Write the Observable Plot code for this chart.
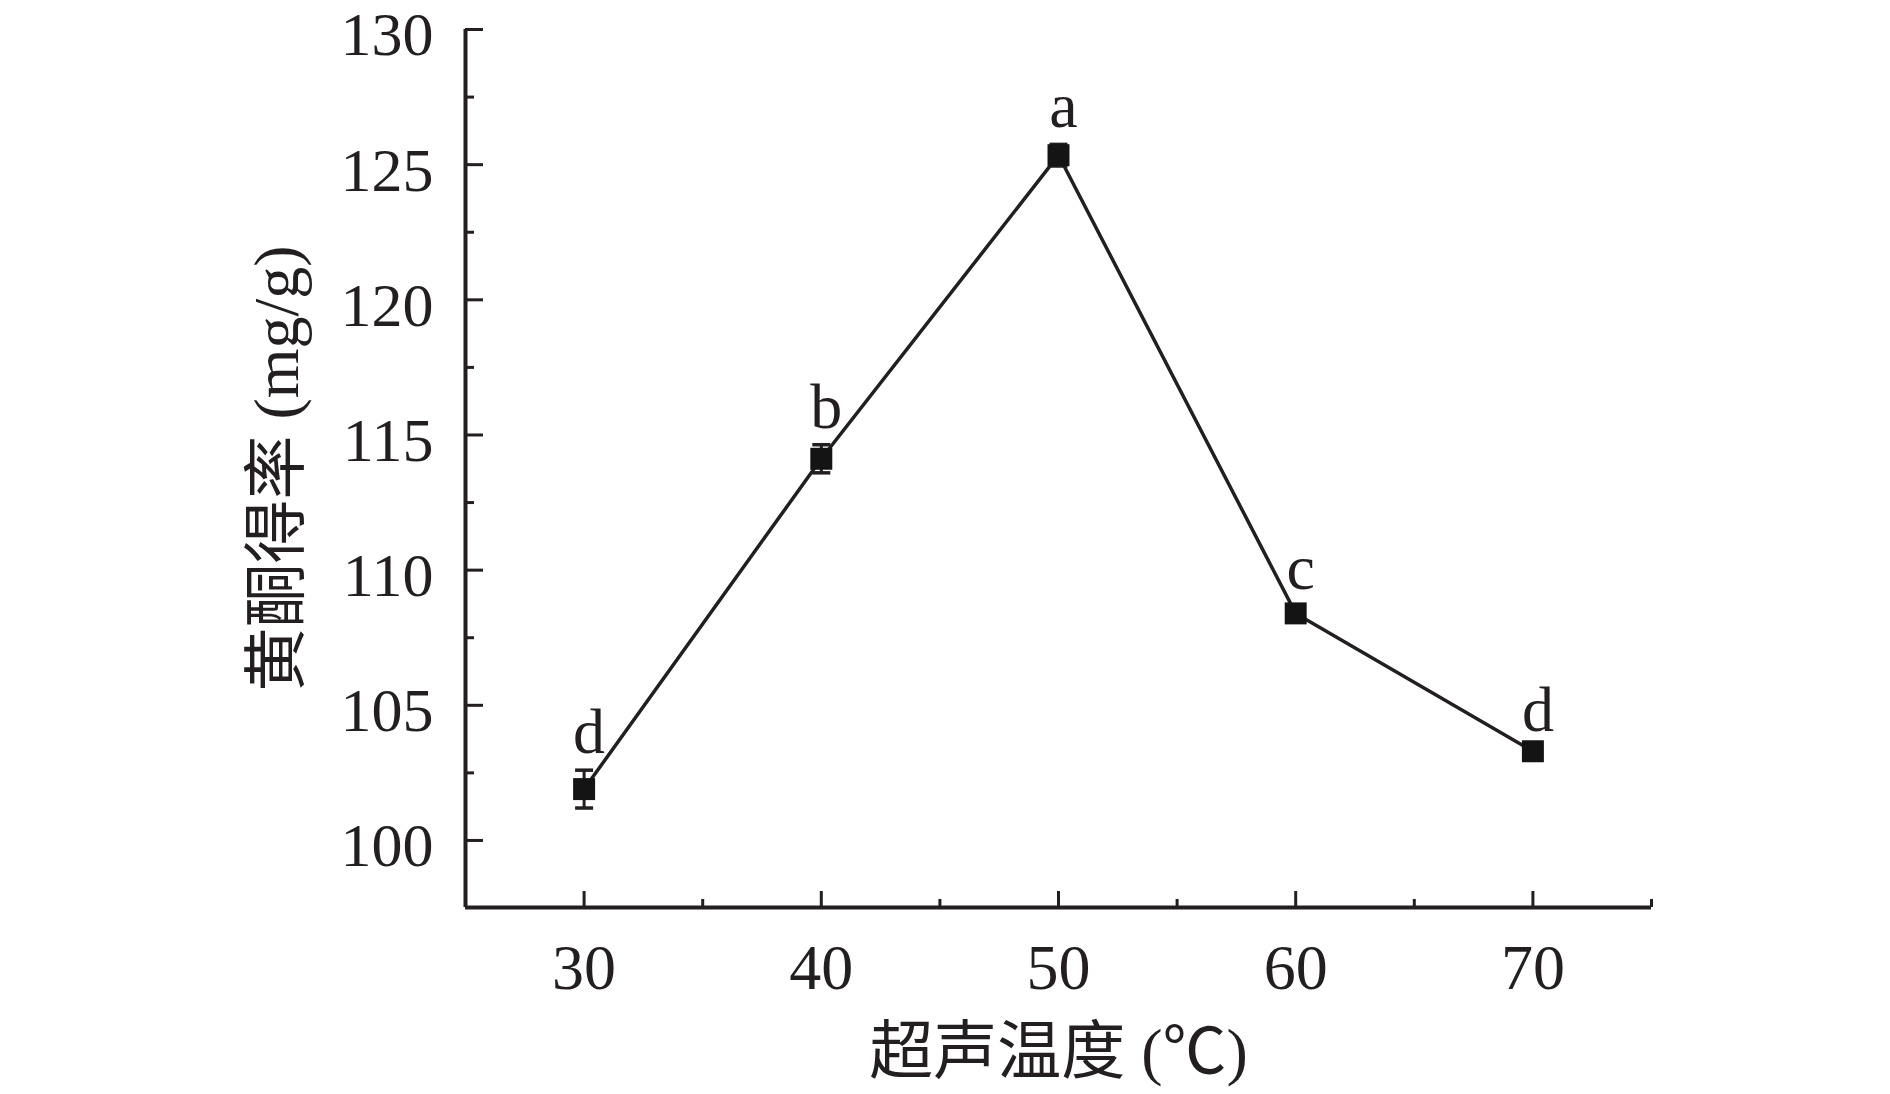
<!DOCTYPE html>
<html><head><meta charset="utf-8">
<script src="https://cdn.jsdelivr.net/npm/d3@7"></script>
<script src="https://cdn.jsdelivr.net/npm/@observablehq/plot@0.6"></script>
<style>body{margin:0;background:#fff}</style>
</head><body><div id="chart"></div>
<script>
const temperatures = [30, 40, 50, 60, 70];
const yields = [101.9, 114.12, 125.35, 108.4, 103.3];
const errors = [0.7, 0.52, 0.4, 0.28, 0.12];
const groups = ["d", "b", "a", "c", "d"];
const xMajorTicks = [30, 40, 50, 60, 70];
const xMinorTicks = [25, 35, 45, 55, 65, 75];
const yMajorTicks = [100, 105, 110, 115, 120, 125, 130];
const yMinorTicks = [102.5, 107.5, 112.5, 117.5, 122.5, 127.5];
const xDomain = [25, 75];
const yDomain = [97.52, 130];
const xTitle = "超声温度 (℃)";
const yTitle = "黄酮得率 (mg/g)";

const data = temperatures.map((t, i) => ({t, v: yields[i], e: errors[i], g: groups[i]}));
const ink = "#231f20";
const capSymbol = {draw(ctx) { ctx.moveTo(-9, 0); ctx.lineTo(9, 0); }};
const noText = () => "";

const chart = Plot.plot({
  width: 1890,
  height: 1094,
  marginLeft: 465,
  marginRight: 239,
  marginTop: 29,
  marginBottom: 187,
  style: {fontFamily: "'Liberation Serif', 'Noto Sans CJK SC', serif", color: ink, background: "#fff"},
  x: {domain: xDomain, label: null},
  y: {domain: yDomain, label: null},
  marks: [
    Plot.axisX({ticks: xMajorTicks, tickSize: -16, tickFormat: noText, strokeWidth: 3, label: null}),
    Plot.axisX({ticks: xMinorTicks, tickSize: -8, tickFormat: noText, strokeWidth: 3, label: null}),
    Plot.axisX({ticks: xMajorTicks, tickSize: 0, tickPadding: 36, fontSize: 64, label: null}),
    Plot.axisY({ticks: yMajorTicks, tickSize: -18, tickFormat: noText, strokeWidth: 3, label: null}),
    Plot.axisY({ticks: yMinorTicks, tickSize: -9, tickFormat: noText, strokeWidth: 3, label: null}),
    Plot.axisY({ticks: yMajorTicks, tickSize: 0, tickPadding: 32, dy: 6, fontSize: 62, label: null}),
    Plot.ruleX([xDomain[0]], {stroke: ink, strokeWidth: 4}),
    Plot.ruleY([yDomain[0]], {stroke: ink, strokeWidth: 4}),
    Plot.line(data, {x: "t", y: "v", stroke: ink, strokeWidth: 3.5}),
    Plot.ruleX(data, {x: "t", y1: d => d.v - d.e, y2: d => d.v + d.e, stroke: ink, strokeWidth: 3}),
    Plot.dot(data, {x: "t", y: d => d.v + d.e, symbol: capSymbol, fill: "none", stroke: ink, strokeWidth: 3.5}),
    Plot.dot(data, {x: "t", y: d => d.v - d.e, symbol: capSymbol, fill: "none", stroke: ink, strokeWidth: 3.5}),
    Plot.dot(data, {x: "t", y: "v", symbol: "square", r: 12.4, fill: "#141414", stroke: "none"}),
    Plot.text(data, {x: "t", y: d => d.v + d.e, text: "g", lineAnchor: "bottom", dy: -17, dx: 5, fontSize: 64, fill: ink}),
    Plot.text([yTitle], {frameAnchor: "left", rotate: -90, dx: -188, textAnchor: "middle", fontSize: 64, fill: ink}),
    Plot.text([xTitle], {frameAnchor: "bottom", dy: 165, textAnchor: "middle", fontSize: 64, fill: ink})
  ]
});
document.getElementById("chart").append(chart);
</script>
</body></html>
